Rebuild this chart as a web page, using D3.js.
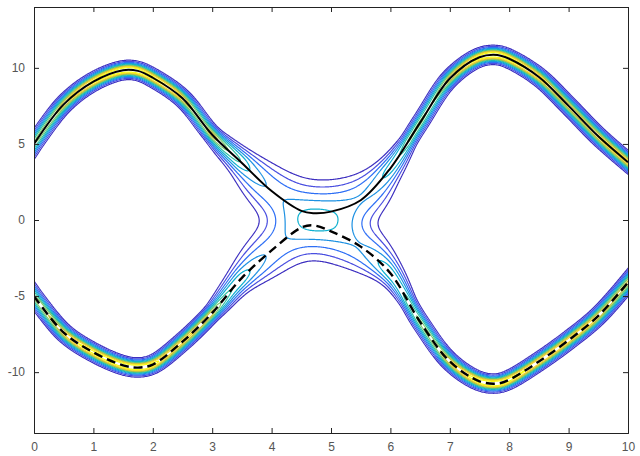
<!DOCTYPE html>
<html>
<head>
<meta charset="utf-8">
<script src="https://cdn.jsdelivr.net/npm/d3@7/dist/d3.min.js"></script>
<style>
  html, body { margin: 0; padding: 0; background: #ffffff; }
  svg { display: block; }
  .tick text { font-family: "Liberation Sans", Arial, sans-serif; font-size: 12px; fill: #555; }
</style>
</head>
<body>
<svg id="chart" width="640" height="456"></svg>
<script>
// ---------------- data ----------------
const xTicks = [0, 1, 2, 3, 4, 5, 6, 7, 8, 9, 10];
const yTicks = [-10, -5, 0, 5, 10];

const upperX = [0, 0.5, 1, 1.5, 1.75, 2, 2.5, 3, 3.5, 4, 4.5, 4.7, 5, 5.5, 6, 6.5, 7, 7.5, 7.8, 8, 8.5, 9, 9.5, 10];
const upperY = [5.0, 7.6, 9.1, 9.85, 9.8, 9.35, 8.0, 5.6, 3.75, 1.9, 0.6, 0.45, 0.55, 1.3, 3.4, 6.4, 9.3, 10.7, 10.85, 10.6, 9.4, 7.5, 5.5, 3.8];

const lowerX = [0, 0.5, 1, 1.5, 1.75, 2, 2.5, 3, 3.5, 4, 4.5, 4.7, 5, 5.5, 6, 6.5, 7, 7.5, 7.8, 8, 8.5, 9, 9.5, 10];
const lowerY = [-5.0, -7.4, -8.7, -9.55, -9.7, -9.5, -8.0, -6.1, -3.8, -2.0, -0.5, -0.35, -0.75, -1.75, -3.5, -6.7, -9.3, -10.6, -10.75, -10.5, -9.3, -7.9, -6.3, -4.1];

// spread of the sample cloud around the curves (in y units)
const spreadX = [0, 3.0, 3.5, 4.0, 4.5, 5.0, 5.5, 5.9, 6.3, 10];
const spreadV = [0.25, 0.25, 0.45, 0.9, 1.1, 1.1, 0.9, 0.48, 0.25, 0.25];

// contour levels as fractions of peak density
const levelFrac = [0.04, 0.085, 0.15, 0.23, 0.32, 0.42, 0.52, 0.62, 0.72, 0.84];
const parula = ["#3d2fc0", "#4a4fe0", "#2e6ff5", "#1d91e2", "#0fb0cf", "#2ebfa0", "#7cc86a", "#c2c03a", "#f5d629", "#f9fb14"];

// ---------------- layout ----------------
const svg = d3.select("#chart");
const L = 34, R = 628, T = 7, B = 433;
const x = d3.scaleLinear().domain([0, 10]).range([L, R]);
const y = d3.scaleLinear().domain([-14, 14]).range([B, T]);
const pxPerY = (B - T) / 28;
const sigmaAt = d3.scaleLinear().domain(spreadX).range(spreadV.map(v => v * pxPerY)).clamp(true);

svg.append("defs").append("clipPath").attr("id", "plotclip")
  .append("rect").attr("x", L).attr("y", T).attr("width", R - L).attr("height", B - T);

const lineGen = d3.line().x(d => x(d[0])).y(d => y(d[1])).curve(d3.curveCatmullRom.alpha(0.5));
const upper = upperX.map((v, i) => [v, upperY[i]]);
const lower = lowerX.map((v, i) => [v, lowerY[i]]);

// ---------------- density grid from the curves ----------------
const pad = 40;
const gx0 = L - pad, gy0 = T - pad;
const gw = (R - L) + 2 * pad, gh = (B - T) + 2 * pad;
const grid = new Float64Array(gw * gh);

const tmp = svg.append("path").attr("fill", "none").attr("stroke", "none");
function samplesFor(data) {
  tmp.attr("d", lineGen(data));
  const node = tmp.node();
  const len = node.getTotalLength();
  const pts = [];
  let prev = null;
  for (let s = 0; s <= len; s += 0.75) {
    const p = node.getPointAtLength(s);
    const w = prev ? Math.abs(p.x - prev.x) : 0;
    pts.push([p.x, p.y, w]);
    prev = p;
  }
  // continue a little beyond the ends along the tangent so the band runs to the axes
  const a0 = pts[0], a1 = pts[3];
  const b0 = pts[pts.length - 1], b1 = pts[pts.length - 4];
  for (const [p, q] of [[a0, a1], [b0, b1]]) {
    const dx = p[0] - q[0], dy = p[1] - q[1], n = Math.hypot(dx, dy);
    for (let s = 0.75; s < 30; s += 0.75) pts.push([p[0] + dx / n * s, p[1] + dy / n * s, Math.abs(dx / n) * 0.75]);
  }
  return pts;
}
function splat(pts) {
  for (const [px, py, w] of pts) {
    if (w <= 0) continue;
    const sg = sigmaAt(x.invert(Math.min(Math.max(px, L), R)));
    const amp = w / (2 * Math.PI * sg * sg);
    const rad = Math.ceil(sg * 3.2);
    const cx = px - gx0, cy = py - gy0;
    const i0 = Math.max(0, Math.floor(cx - rad)), i1 = Math.min(gw - 1, Math.ceil(cx + rad));
    const j0 = Math.max(0, Math.floor(cy - rad)), j1 = Math.min(gh - 1, Math.ceil(cy + rad));
    const inv = 1 / (2 * sg * sg);
    for (let j = j0; j <= j1; j++) {
      const ddy = j + 0.5 - cy;
      for (let i = i0; i <= i1; i++) {
        const ddx = i + 0.5 - cx;
        grid[j * gw + i] += amp * Math.exp(-(ddx * ddx + ddy * ddy) * inv);
      }
    }
  }
}
splat(samplesFor(upper));
splat(samplesFor(lower));
tmp.remove();

let gmax = 0;
for (let i = 0; i < grid.length; i++) if (grid[i] > gmax) gmax = grid[i];
const thresholds = levelFrac.map(f => f * gmax);
const color = d3.scaleOrdinal().domain(thresholds).range(parula);

const contours = d3.contours().size([gw, gh]).thresholds(thresholds)(grid);
const gC = svg.append("g").attr("clip-path", "url(#plotclip)");
gC.append("g").attr("transform", `translate(${gx0},${gy0})`)
  .selectAll("path").data(contours).join("path")
  .attr("d", d3.geoPath())
  .attr("fill", "none")
  .attr("stroke", d => color(d.value))
  .attr("stroke-width", 1.2)
  .attr("stroke-linejoin", "round");

// ---------------- curves ----------------
gC.append("path").attr("d", lineGen(upper))
  .attr("fill", "none").attr("stroke", "#000").attr("stroke-width", 2);
gC.append("path").attr("d", lineGen(lower))
  .attr("fill", "none").attr("stroke", "#000").attr("stroke-width", 2.4)
  .attr("stroke-dasharray", "9,5");

// ---------------- axes ----------------
const tickLen = 5;
const axB = svg.append("g").attr("transform", `translate(0,${B})`)
  .call(d3.axisBottom(x).tickValues(xTicks).tickSize(-tickLen).tickPadding(9).tickFormat(d3.format("d")));
const axT = svg.append("g").attr("transform", `translate(0,${T})`)
  .call(d3.axisTop(x).tickValues(xTicks).tickSize(-tickLen).tickFormat(""));
const axL = svg.append("g").attr("transform", `translate(${L},0)`)
  .call(d3.axisLeft(y).tickValues(yTicks).tickSize(-tickLen).tickPadding(9).tickFormat(d => d < 0 ? "-" + Math.abs(d) : d));
const axR = svg.append("g").attr("transform", `translate(${R},0)`)
  .call(d3.axisRight(y).tickValues(yTicks).tickSize(-tickLen).tickFormat(""));
[axB, axT, axL, axR].forEach(a => {
  a.select(".domain").attr("stroke", "#222").attr("stroke-width", 1);
  a.selectAll(".tick line").attr("stroke", "#222");
});
</script>
</body>
</html>
